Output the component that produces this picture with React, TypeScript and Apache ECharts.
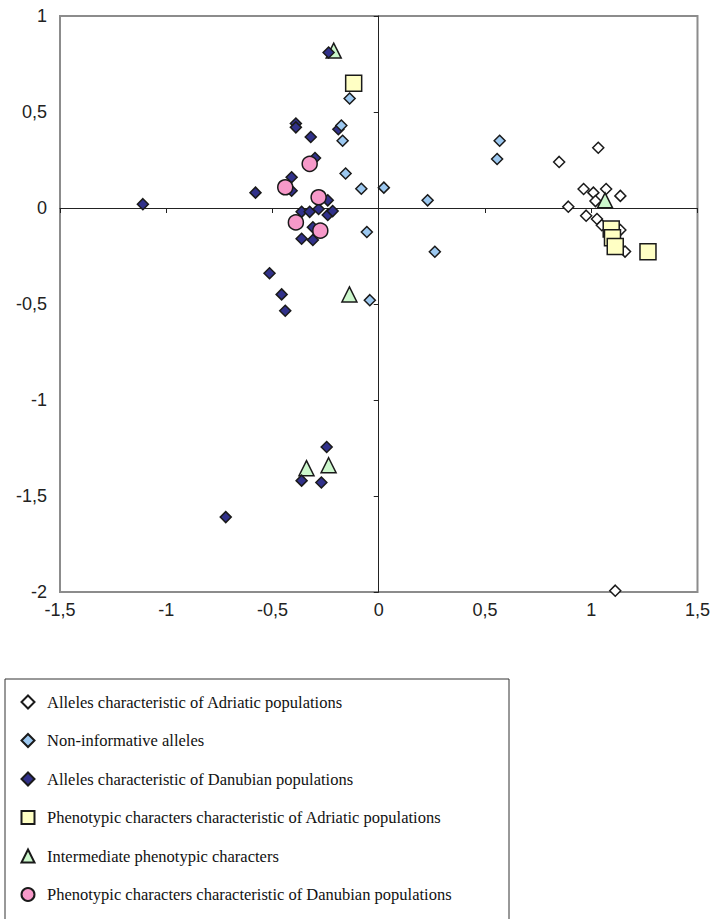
import React, { useEffect, useRef } from "react";
import * as echarts from "echarts";

const seriesNames = [
  "Alleles characteristic of Adriatic populations",
  "Non-informative alleles",
  "Alleles characteristic of Danubian populations",
  "Phenotypic characters characteristic of Adriatic populations",
  "Intermediate phenotypic characters",
  "Phenotypic characters characteristic of Danubian populations",
];

const adriaticAlleles: number[][] = [
  [1.033, 0.314], [0.849, 0.24], [0.964, 0.099], [1.01, 0.08], [1.07, 0.099],
  [1.137, 0.063], [1.02, 0.036], [0.892, 0.007], [0.976, -0.04], [1.027, -0.057],
  [1.05, -0.09], [1.137, -0.115], [1.159, -0.227], [1.113, -1.993],
];

const nonInformativeAlleles: number[][] = [
  [-0.137, 0.57], [-0.176, 0.43], [-0.17, 0.35], [-0.156, 0.18], [-0.082, 0.1],
  [0.024, 0.106], [0.23, 0.04], [-0.056, -0.125], [0.264, -0.228], [-0.042, -0.48],
  [0.569, 0.35], [0.557, 0.255],
];

const danubianAlleles: number[][] = [
  [-1.11, 0.02], [-0.236, 0.81], [-0.39, 0.44], [-0.39, 0.42], [-0.19, 0.41],
  [-0.32, 0.37], [-0.3, 0.26], [-0.41, 0.16], [-0.58, 0.08], [-0.41, 0.09],
  [-0.24, 0.04], [-0.363, -0.02], [-0.325, -0.02], [-0.283, -0.005], [-0.24, -0.036],
  [-0.217, -0.016], [-0.31, -0.1], [-0.363, -0.16], [-0.31, -0.167], [-0.514, -0.34],
  [-0.457, -0.45], [-0.44, -0.535], [-0.245, -1.245], [-0.363, -1.42], [-0.27, -1.43],
  [-0.72, -1.61],
];

const adriaticPheno: number[][] = [
  [-0.118, 0.65], [1.094, -0.11], [1.1, -0.155], [1.113, -0.2], [1.267, -0.228],
];

const intermediatePheno: number[][] = [
  [-0.212, 0.82], [-0.138, -0.45], [-0.34, -1.355], [-0.236, -1.34], [1.065, 0.04],
];

const danubianPheno: number[][] = [
  [-0.325, 0.23], [-0.44, 0.108], [-0.283, 0.056], [-0.39, -0.075], [-0.275, -0.118],
];

const fmt = (v: number) => String(v).replace(".", ",");

export default function App() {
  const ref = useRef<HTMLDivElement>(null);
  useEffect(() => {
    if (!ref.current) return;
    const chart = echarts.init(ref.current, null, { renderer: "svg" });
    const border = "#1a1a1a";
    const axisBase = {
      min: -1.5,
      max: 1.5,
      interval: 0.5,
      splitLine: { show: false },
    };
    const yBase = {
      min: -2,
      max: 1,
      interval: 0.5,
      splitLine: { show: false },
    };
    const labelStyle = {
      fontFamily: "Liberation Sans",
      fontSize: 18,
      color: "#222",
      formatter: fmt,
    };
    const mk = (
      name: string,
      data: number[][],
      symbol: string,
      size: number | number[],
      fill: string,
      z: number
    ) => ({
      type: "scatter",
      name,
      data,
      symbol,
      symbolSize: size,
      xAxisIndex: 0,
      yAxisIndex: 0,
      z,
      itemStyle: { color: fill, borderColor: border, borderWidth: 1.5, opacity: 1 },
      emphasis: { disabled: true },
    });
    chart.setOption({
      animation: false,
      backgroundColor: "#ffffff",
      grid: {
        left: 60,
        right: 15,
        top: 16,
        bottom: 327,
        show: true,
        borderColor: "#8c8c8c",
        borderWidth: 2,
        backgroundColor: "#ffffff",
      },
      xAxis: [
        {
          ...axisBase,
          type: "value",
          position: "bottom",
          axisLine: { show: true, onZero: true, lineStyle: { color: "#222", width: 1 } },
          axisTick: { show: true, inside: false, length: 5, lineStyle: { color: "#222" } },
          axisLabel: { show: false },
        },
        {
          ...axisBase,
          type: "value",
          position: "bottom",
          axisLine: { show: false, onZero: false },
          axisTick: { show: false },
          axisLabel: { ...labelStyle, margin: 9 },
        },
      ],
      yAxis: [
        {
          ...yBase,
          type: "value",
          position: "left",
          axisLine: { show: true, onZero: true, lineStyle: { color: "#222", width: 1 } },
          axisTick: { show: true, inside: false, length: 5, lineStyle: { color: "#222" } },
          axisLabel: { show: false },
        },
        {
          ...yBase,
          type: "value",
          position: "left",
          axisLine: { show: false, onZero: false },
          axisTick: { show: false },
          axisLabel: { ...labelStyle, margin: 13 },
        },
      ],
      legend: {
        orient: "vertical",
        left: 15.5,
        top: 687,
        itemWidth: 13,
        itemHeight: 13,
        itemGap: 18.5,
        data: seriesNames,
        selectedMode: false,
        textStyle: {
          fontFamily: "Liberation Serif",
          fontSize: 16.5,
          color: "#111",
          lineHeight: 20,
          padding: [0, 0, 0, 7.5],
        },
      },
      graphic: [
        {
          type: "rect",
          z: -1,
          shape: { x: 5, y: 679, width: 504, height: 260 },
          style: { fill: "transparent", stroke: "#333", lineWidth: 1 },
        },
      ],
      series: [
        mk(seriesNames[0], adriaticAlleles, "diamond", 11, "#ffffff", 2),
        mk(seriesNames[1], nonInformativeAlleles, "diamond", 11, "#9cc8f0", 5),
        mk(seriesNames[2], danubianAlleles, "diamond", 11, "#31318a", 4),
        mk(seriesNames[3], adriaticPheno, "rect", 16, "#ffffc4", 6),
        mk(seriesNames[4], intermediatePheno, "triangle", [15, 15], "#ccf7cc", 3),
        mk(seriesNames[5], danubianPheno, "circle", 15, "#f799c9", 7),
      ],
    });
    return () => chart.dispose();
  }, []);
  return (
    <div
      ref={ref}
      style={{ position: "absolute", left: 0, top: 0, width: 713, height: 919 }}
    />
  );
}
